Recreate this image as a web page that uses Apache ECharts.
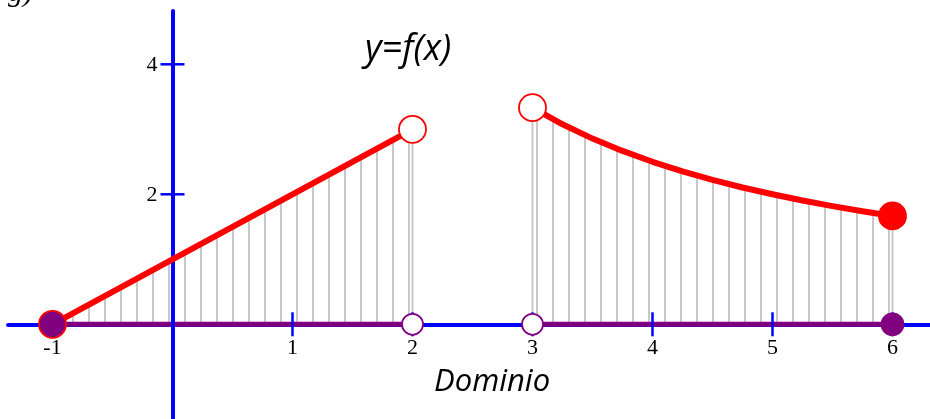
<!DOCTYPE html>
<html>
<head>
<meta charset="utf-8">
<script src="https://cdn.jsdelivr.net/npm/echarts@6/dist/echarts.min.js"></script>
<style>
    html, body { margin: 0; padding: 0; background: #fff; }
    #chart { width: 930px; height: 419px; }
</style>
</head>
<body>
<div id="chart"></div>
<script>
// tramo 1: y = x + 1 en [-1, 2)
var leftX = [-1, 2];
var leftY = [0, 3];
// tramo 2: y = 10/x en (3, 6]
var rightX = [3, 3.25, 3.5, 3.75, 4, 4.25, 4.5, 4.75, 5, 5.25, 5.5, 5.75, 6];
var rightY = [3.333, 3.077, 2.857, 2.667, 2.5, 2.353, 2.222, 2.105, 2.0, 1.905, 1.818, 1.739, 1.667];
// dominio sobre el eje x
var domX = [[-1, 2], [3, 6]];
var xTicks = [-1, 1, 2, 3, 4, 5, 6];
var yTicks = [2, 4];

function pairs(xs, ys) {
    var out = [];
    for (var i = 0; i < xs.length; i++) {
        out.push([xs[i], ys[i]]);
    }
    return out;
}

var leftData = pairs(leftX, leftY);
var rightData = pairs(rightX, rightY);
var last = rightX.length - 1;
var labelFont = '22px "Liberation Serif", serif';

// rayado vertical gris
var pat = document.createElement('canvas');
pat.width = 16;
pat.height = 4;
var ctx = pat.getContext('2d');
ctx.fillStyle = '#c8c8c8';
ctx.fillRect(8, 0, 2, 4);

var chart = echarts.init(document.getElementById('chart'), null, {renderer: 'canvas'});

function areaSeries(data) {
    return {
        type: 'line', data: data, z: 1, silent: true,
        showSymbol: false, symbol: 'none',
        lineStyle: {width: 0, opacity: 0},
        areaStyle: {color: {image: pat, repeat: 'repeat'}, opacity: 1}
    };
}

function curveSeries(data) {
    return {
        type: 'line', data: data, z: 5, silent: true,
        showSymbol: false, symbol: 'none', smooth: false,
        lineStyle: {color: '#ff0000', width: 6, cap: 'round', join: 'round'}
    };
}

function domSeries(seg) {
    return {
        type: 'line', data: [[seg[0], 0], [seg[1], 0]], z: 3, silent: true,
        showSymbol: false, symbol: 'none',
        lineStyle: {color: '#800080', width: 5}
    };
}

function dot(data, size, fill, border, z) {
    return {
        type: 'scatter', data: data, z: z, silent: true,
        symbol: 'circle', symbolSize: size,
        itemStyle: {color: fill, borderColor: border, borderWidth: 1.8, opacity: 1}
    };
}

var option = {
    animation: false,
    grid: {left: 8, right: 0, top: 11, bottom: 0, outerBoundsMode: 'none'},
    xAxis: {
        type: 'value', min: -1.3708, max: 6.3125, z: 2,
        axisLine: {show: true, onZero: true, lineStyle: {color: '#0000ff', width: 4}},
        axisTick: {show: false},
        splitLine: {show: false},
        axisLabel: {show: false}
    },
    yAxis: {
        type: 'value', min: -1.457, max: 4.82, z: 3.5,
        axisLine: {show: true, onZero: true, lineStyle: {color: '#0000ff', width: 4}},
        axisTick: {show: false},
        splitLine: {show: false},
        axisLabel: {show: false}
    },
    graphic: [
        {type: 'text', left: 365, top: 32, z: 10,
            style: {text: 'y=f(x)', font: 'italic 36px "Open Sans"', fill: '#000'}},
        {type: 'text', left: 434, top: 367, z: 10,
            style: {text: 'Dominio', font: 'italic 31px "Open Sans"', fill: '#000'}},
        {type: 'text', left: 8, top: -22, z: 10,
            style: {text: 'g)', font: 'italic 30px "Liberation Serif"', fill: '#000'}}
    ],
    series: [
        areaSeries(leftData),
        areaSeries(rightData),
        {
            // bordes del rayado
            type: 'custom', z: 1, silent: true,
            data: [leftData[1], rightData[0], rightData[last]],
            renderItem: function (params, api) {
                var top = api.coord([api.value(0), api.value(1)]);
                var bot = api.coord([api.value(0), 0]);
                return {type: 'line', shape: {x1: top[0], y1: top[1], x2: bot[0], y2: bot[1]},
                    style: {stroke: '#c8c8c8', lineWidth: 2}};
            }
        },
        domSeries(domX[0]),
        domSeries(domX[1]),
        {
            // marcas y etiquetas del eje x
            type: 'custom', z: 4, silent: true,
            data: xTicks.map(function (v) { return [v, 0]; }),
            renderItem: function (params, api) {
                var v = api.value(0);
                var p = api.coord([v, 0]);
                return {type: 'group', children: [
                    {type: 'line', shape: {x1: p[0], y1: p[1] - 12, x2: p[0], y2: p[1] + 12},
                        style: {stroke: '#0000ff', lineWidth: 2.5}},
                    {type: 'text', z2: 10, style: {text: String(v), x: p[0], y: p[1] + 13,
                        align: 'center', verticalAlign: 'top', font: labelFont, fill: '#000'}}
                ]};
            }
        },
        {
            // marcas y etiquetas del eje y
            type: 'custom', z: 4, silent: true,
            data: yTicks.map(function (v) { return [0, v]; }),
            renderItem: function (params, api) {
                var v = api.value(1);
                var p = api.coord([0, v]);
                return {type: 'group', children: [
                    {type: 'line', shape: {x1: p[0] - 12, y1: p[1], x2: p[0] + 12, y2: p[1]},
                        style: {stroke: '#0000ff', lineWidth: 2.5}},
                    {type: 'text', style: {text: String(v), x: p[0] - 15, y: p[1] + 1,
                        align: 'right', verticalAlign: 'middle', font: labelFont, fill: '#000'}}
                ]};
            }
        },
        curveSeries(leftData),
        curveSeries(rightData),
        dot([leftData[1], rightData[0]], 27, '#ffffff', '#ff0000', 6),
        dot([rightData[last]], 27, '#ff0000', '#ff0000', 6),
        dot([[domX[0][1], 0], [domX[1][0], 0]], 21, '#ffffff', '#800080', 6),
        dot([[domX[1][1], 0]], 22, '#800080', '#800080', 6),
        dot([[domX[0][0], 0]], 27, '#800080', '#ff0000', 6)
    ]
};
chart.setOption(option);
</script>
</body>
</html>
